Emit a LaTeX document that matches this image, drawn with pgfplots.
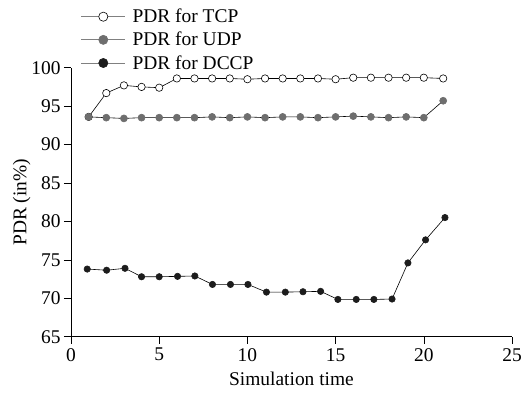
\documentclass[border=0pt]{standalone}
\usepackage{pgfplots}
\pgfplotsset{compat=1.18}
\usepackage{fontspec}
\setmainfont{Liberation Serif}
\definecolor{udpgray}{HTML}{6E6E6E}
\definecolor{dccpblack}{HTML}{1C1C1C}
\begin{document}
\begin{tikzpicture}
\begin{axis}[
  at={(0,0)}, anchor=origin,
  scale only axis,
  width=441bp, height=269bp,
  xmin=0, xmax=25, ymin=65, ymax=100,
  xtick={0,5,10,15,20,25},
  ytick={65,70,75,80,85,90,95,100},
  axis x line=bottom, axis y line=left,
  axis line style={-, black, line width=0.6pt},
  tick align=outside,
  major tick length=7bp,
  tick style={black, line width=0.6pt},
  /pgf/number format/assume math mode=true,
  tick label style={font=\fontsize{19.5}{21}\selectfont},
  xticklabel style={yshift=-1bp},
  label style={font=\fontsize{19.5}{21}\selectfont},
  xlabel={Simulation time},
  ylabel={PDR (in\%)},
  xlabel style={yshift=-4bp},
  ylabel style={yshift=-6bp},
  clip=false,
  legend style={at={(0.022,1.226)}, anchor=north west, draw=none, fill=none,
    font=\fontsize{19.5}{21}\selectfont, row sep=4bp, inner sep=0pt,
    cells={anchor=west}},
  legend image code/.code={
    \path (49bp,0bp);
    \draw[gray, line width=0.8pt] (0bp,0bp) -- (44bp,0bp);
    \draw[#1, draw opacity=1, mark size=4.6bp] plot coordinates {(22bp,0bp)};
  },
]
\addplot[black, line width=0.6pt, mark=*, mark size=3.7bp,
  mark options={fill=white, draw=black, line width=0.6pt}]
coordinates {
(1,93.6) (2,96.7) (3,97.7) (4,97.5) (5,97.4) (6,98.6) (7,98.6) (8,98.6)
(9,98.6) (10,98.5) (11,98.6) (12,98.6) (13,98.6) (14,98.6) (15,98.5)
(16,98.7) (17,98.7) (18,98.7) (19,98.7) (20,98.7) (21.1,98.6)
};
\addlegendentry{PDR for TCP}
\addplot[black, line width=0.6pt, mark=*, mark size=3.5bp,
  mark options={fill=udpgray, draw=udpgray}]
coordinates {
(1,93.6) (2,93.5) (3,93.4) (4,93.5) (5,93.5) (6,93.5) (7,93.5) (8,93.6)
(9,93.5) (10,93.6) (11,93.5) (12,93.6) (13,93.6) (14,93.5) (15,93.6)
(16,93.7) (17,93.6) (18,93.5) (19,93.6) (20,93.5) (21.1,95.7)
};
\addlegendentry{PDR for UDP}
\addplot[black, line width=0.6pt, mark=*, mark size=3.2bp,
  mark options={fill=dccpblack, draw=dccpblack}]
coordinates {
(0.92,73.8) (2.02,73.65) (3.06,73.9) (4,72.8) (5,72.8) (6.04,72.85)
(7.02,72.9) (8.02,71.8) (9.04,71.8) (10.03,71.8) (11.08,70.8) (12.15,70.8)
(13.15,70.85) (14.15,70.9) (15.13,69.85) (16.17,69.85) (17.17,69.85)
(18.2,69.9) (19.1,74.6) (20.1,77.6) (21.2,80.5)
};
\addlegendentry{PDR for DCCP}
\end{axis}
\pgfresetboundingbox
\path (-71bp,-59.3bp) rectangle (455bp,336.7bp);
\end{tikzpicture}
\end{document}
